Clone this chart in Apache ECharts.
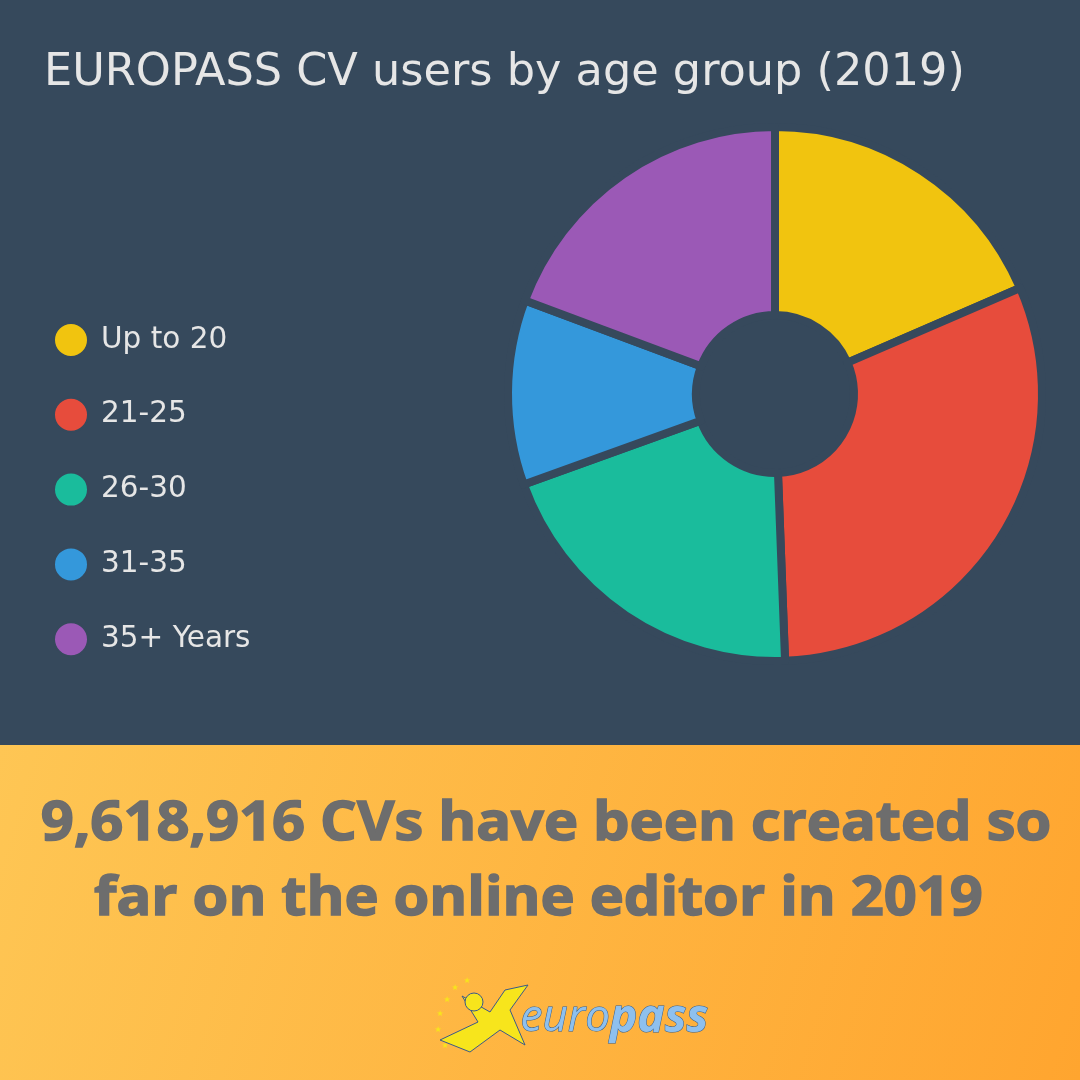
<!DOCTYPE html>
<html>
<head>
<meta charset="utf-8">
<script src="https://cdn.jsdelivr.net/npm/echarts@6/dist/echarts.min.js"></script>
<style>
html,body{margin:0;padding:0;background:#36495c;}
#main{width:1080px;height:1080px;}
</style>
</head>
<body>
<div id="main"></div>
<script>
const categories = ['Up to 20', '21-25', '26-30', '31-35', '35+ Years'];
const shares = [18.5, 30.9, 20.1, 11.2, 19.3];
const colors = ['#f1c40f', '#e74c3c', '#1abc9c', '#3498db', '#9b59b6'];
const titleText = 'EUROPASS CV users by age group (2019)';
const footerLines = ['9,618,916 CVs have been created so', 'far on the online editor in 2019 '];

const BG = '#36495c';
const chart = echarts.init(document.getElementById('main'));

const stars = [[447,1000],[455,988],[467,981],[440,1014],[438,1030],[445,1046]].map(p => ({
  type: 'text',
  style: { x: p[0], y: p[1], text: '★', fill: '#f7e51c', font: '8px "DejaVu Sans"', textAlign: 'center', textVerticalAlign: 'middle' }
}));

chart.setOption({
  backgroundColor: BG,
  animation: false,
  title: {
    text: titleText,
    left: 39,
    top: 46,
    textStyle: { color: '#e6e6e6', fontSize: 44.6, fontWeight: 'normal', fontFamily: 'DejaVu Sans' }
  },
  legend: {
    orient: 'vertical',
    left: 48,
    top: 317,
    icon: 'circle',
    itemWidth: 34,
    itemHeight: 34,
    itemGap: 38.8,
    data: categories,
    textStyle: { color: '#e6e6e6', fontSize: 29.5, lineHeight: 34, fontFamily: 'DejaVu Sans', padding: [0, 0, 0, 8] }
  },
  graphic: [
    {
      type: 'rect',
      shape: { x: 0, y: 745, width: 1080, height: 335 },
      style: {
        fill: new echarts.graphic.LinearGradient(0, 0, 1, 1, [
          { offset: 0, color: '#fec654' },
          { offset: 1, color: '#ffa52f' }
        ])
      },
      z: -1
    },
    {
      type: 'text',
      x: 0, y: 0,
      scaleX: 1.07,
      originX: 546,
      originY: 860,
      style: {
        x: 546,
        y: 787,
        text: footerLines.join('\n'),
        fill: '#6d6d6d',
        stroke: '#6d6d6d',
        lineWidth: 1.5,
        font: 'bold 54px "Open Sans"',
        textAlign: 'center',
        lineHeight: 75
      }
    },
    ...stars,
    {
      type: 'polygon',
      shape: { points: [[440,1040],[478,1022],[462,996],[490,1012],[505,990],[528,985],[510,1010],[525,1045],[500,1030],[470,1052]] },
      style: { fill: '#f7e51c', stroke: '#3a5a8a', lineWidth: 1 }
    },
    {
      type: 'circle',
      shape: { cx: 474, cy: 1002, r: 9 },
      style: { fill: '#f7e51c', stroke: '#3a5a8a', lineWidth: 1 }
    },
    {
      type: 'text',
      left: 520,
      top: 995,
      style: {
        text: '{a|euro}{b|pass}',
        rich: {
          a: { fill: '#8ec0ee', stroke: '#2f5d94', lineWidth: 1, font: 'italic 44px "Open Sans"' },
          b: { fill: '#8ec0ee', stroke: '#2f5d94', lineWidth: 1, font: 'italic bold 46px "Open Sans"' }
        }
      }
    }
  ],
  series: [{
    type: 'pie',
    center: [775, 394],
    radius: [79, 267],
    startAngle: 90,
    clockwise: true,
    label: { show: false },
    labelLine: { show: false },
    emphasis: { disabled: true },
    itemStyle: { borderColor: BG, borderWidth: 8 },
    data: categories.map((c, i) => ({ name: c, value: shares[i], itemStyle: { color: colors[i] } }))
  }]
});
</script>
</body>
</html>
